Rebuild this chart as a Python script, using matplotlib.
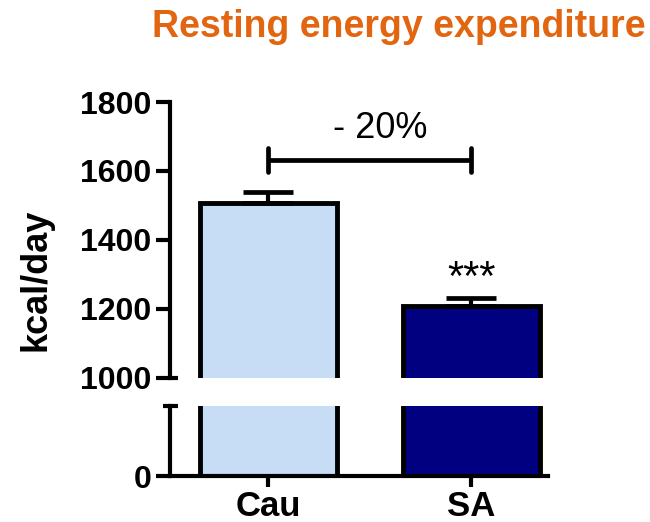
import matplotlib
matplotlib.use("Agg")
import matplotlib.pyplot as plt

plt.rcParams['font.family'] = ['Liberation Sans', 'DejaVu Sans']

groups = ["Cau", "SA"]
means = [1507, 1209]
sem = [32, 23]
colors = ["#C7DDF6", "#000080"]
yticks_top = [1000, 1200, 1400, 1600, 1800]
bracket_y = 1632
bracket_label = "- 20%"
signif = "***"

fig = plt.figure(figsize=(6.5, 5.22), dpi=100)
left, width = 170 / 650, 378 / 650
ax_top = fig.add_axes([left, 144 / 522, width, 276 / 522])
ax_bot = fig.add_axes([left, 46 / 522, width, 70 / 522])

lw = 3.0
x = [0, 1]
bw = 0.675
for ax in (ax_top, ax_bot):
    ax.bar(x, means, width=bw, color=colors, edgecolor="black", linewidth=3.5, zorder=2)
    ax.set_xlim(-0.485, 1.377)
    for s in ("top", "right"):
        ax.spines[s].set_visible(False)
    ax.spines["left"].set_linewidth(lw)
    ax.spines["bottom"].set_linewidth(lw)
    ax.tick_params(axis="both", width=lw, length=10, labelsize=23)

# upper SEM bars
ax_top.errorbar(x, means, yerr=[[0, 0], sem], fmt="none", ecolor="black",
                elinewidth=3.0, capsize=18, capthick=3.4, zorder=3)

ax_top.set_ylim(1000, 1800)
ax_top.set_yticks(yticks_top)
ax_top.spines["bottom"].set_visible(False)
ax_top.tick_params(axis="x", bottom=False, labelbottom=False)
for lab in ax_top.get_yticklabels():
    lab.set_fontweight("bold")

ax_bot.set_ylim(0, 203)
ax_bot.set_yticks([0])
ax_bot.set_xticks(x)
ax_bot.set_xticklabels(groups)
ax_bot.tick_params(axis="x", length=8, pad=2, labelsize=25)
for lab in ax_bot.get_yticklabels() + ax_bot.get_xticklabels():
    lab.set_fontweight("bold")

# break caps on the y axis
ax_top.plot([0, 0.02], [0, 0], transform=ax_top.transAxes, color="black",
            lw=lw, clip_on=False, solid_capstyle="butt")
ax_bot.plot([-0.018, 0.02], [1, 1], transform=ax_bot.transAxes, color="black",
            lw=lw, clip_on=False, solid_capstyle="butt")

# comparison bracket
ax_top.plot([0, 1], [bracket_y, bracket_y], color="black", lw=3.4,
            solid_capstyle="butt", clip_on=False)
for xi in x:
    ax_top.plot([xi, xi], [bracket_y - 35, bracket_y + 35], color="black",
                lw=3.4, solid_capstyle="round", clip_on=False)
ax_top.text(0.55, bracket_y + 40, bracket_label, ha="center", va="bottom", fontsize=26)
ax_top.text(1, means[1] + sem[1] - 2, signif, ha="center", va="bottom", fontsize=30)

fig.text(36 / 650, 1 - 280 / 522, "kcal/day", rotation=90, ha="center", va="center",
         fontsize=26, fontweight="bold")
fig.text(399 / 650, 1 - 37 / 522, "Resting energy expenditure", ha="center", va="baseline",
         fontsize=27, fontweight="bold", color="#E2650F")

fig.savefig("out.png", dpi=100)
